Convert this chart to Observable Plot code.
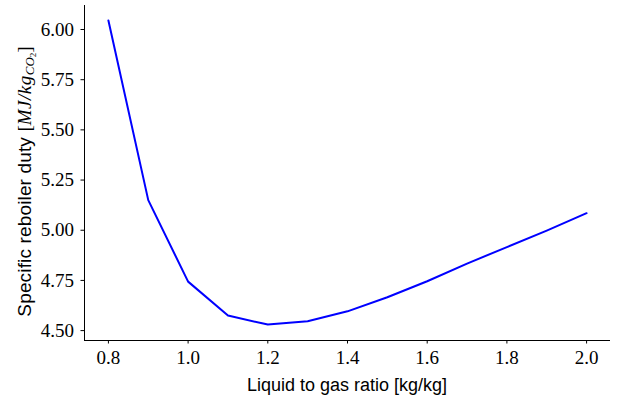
<!DOCTYPE html>
<html>
<head>
<meta charset="utf-8">
<script src="https://cdn.jsdelivr.net/npm/d3@7"></script>
<script src="https://cdn.jsdelivr.net/npm/@observablehq/plot@0.6"></script>
<style>
  html, body { margin: 0; padding: 0; background: #fff; }
  svg { display: block; }
</style>
</head>
<body>
<div id="chart"></div>
<script>
const ratio = [0.8, 0.9, 1.0, 1.1, 1.2, 1.3, 1.4, 1.5, 1.6, 1.7, 1.8, 1.9, 2.0];
const duty  = [6.045, 5.150, 4.744, 4.575, 4.530, 4.547, 4.596, 4.666, 4.746, 4.834, 4.916, 4.998, 5.085];
const xTicks = [0.8, 1.0, 1.2, 1.4, 1.6, 1.8, 2.0];
const yTicks = [4.50, 4.75, 5.00, 5.25, 5.50, 5.75, 6.00];
const xLabel = "Liquid to gas ratio [kg/kg]";
const yLabel = "Specific reboiler duty ";

const data = ratio.map((r, i) => ({ratio: r, duty: duty[i]}));
const xDomain = [0.74, 2.06];
const yDomain = [4.4507, 6.1196];

const serif = "'Liberation Serif', 'DejaVu Serif', serif";
const sans = "'Liberation Sans', Arial, sans-serif";

const plot = Plot.plot({
  width: 618,
  height: 397,
  marginLeft: 84,
  marginRight: 8,
  marginTop: 5,
  marginBottom: 57,
  style: {fontFamily: serif, fontSize: "19px", background: "#fff", color: "#000"},
  x: {domain: xDomain},
  y: {domain: yDomain},
  marks: [
    Plot.axisX({ticks: xTicks, tickFormat: d3.format(".1f"), tickSize: 3.5, tickPadding: 6, label: null, fontSize: "19px"}),
    Plot.axisY({ticks: yTicks, tickFormat: d3.format(".2f"), tickSize: 3.5, tickPadding: 7, label: null, fontSize: "19px"}),
    Plot.ruleX([xDomain[0]], {stroke: "#000", strokeWidth: 1}),
    Plot.ruleY([yDomain[0]], {stroke: "#000", strokeWidth: 1}),
    Plot.line(data, {x: "ratio", y: "duty", stroke: "#0000ff", strokeWidth: 2})
  ]
});

document.getElementById("chart").appendChild(plot);

const svg = d3.select(plot);
const sx = plot.scale("x"), sy = plot.scale("y");
const xc = (sx.apply(xDomain[0]) + sx.apply(xDomain[1])) / 2;
const yc = (sy.apply(yDomain[0]) + sy.apply(yDomain[1])) / 2;

svg.append("text")
  .attr("x", xc).attr("y", 391)
  .attr("text-anchor", "middle")
  .style("font-family", sans).style("font-size", "18px").attr("fill", "#000")
  .text(xLabel);

const yt = svg.append("text")
  .attr("transform", `translate(31,${yc + 9}) rotate(-90)`)
  .attr("text-anchor", "middle")
  .attr("fill", "#000");
yt.append("tspan").style("font-family", sans).style("font-size", "19px").style("letter-spacing", "0.15px").text(yLabel);
yt.append("tspan").style("font-family", serif).style("font-size", "19px").text("[");
yt.append("tspan").style("font-family", serif).style("font-size", "19px").style("font-style", "italic").style("letter-spacing", "0.5px").text("MJ/kg");
yt.append("tspan").attr("dy", 3).style("font-family", serif).style("font-size", "13px").style("font-style", "italic").text("CO");
yt.append("tspan").attr("dy", 2).style("font-family", serif).style("font-size", "9px").text("2");
yt.append("tspan").attr("dy", -5).style("font-family", serif).style("font-size", "19px").text("]");
</script>
</body>
</html>
